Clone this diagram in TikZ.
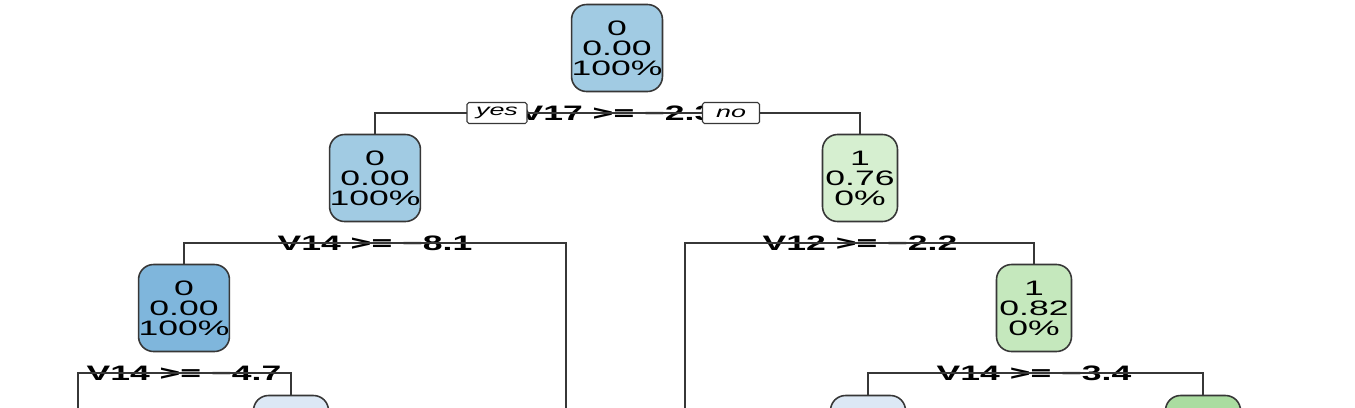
\documentclass[tikz,border=0pt]{standalone}
\usepackage{fontspec}
\setmainfont{Liberation Sans}[FakeStretch=1.7]
\definecolor{TreeBlueA}{RGB}{161,203,227}
\definecolor{TreeBlueB}{RGB}{127,182,220}
\definecolor{TreeBlueC}{RGB}{220,232,245}
\definecolor{TreeGreenA}{RGB}{214,239,208}
\definecolor{TreeGreenB}{RGB}{197,232,189}
\definecolor{TreeGreenC}{RGB}{170,220,160}
\definecolor{TreeLine}{RGB}{55,55,55}
\usepackage{tikz}
\usetikzlibrary{positioning,calc}

\begin{document}
\begin{tikzpicture}[
    x=0.02cm, y=-0.02cm,
    leaf/.style={rectangle, rounded corners=0.3cm, draw=TreeLine, fill=#1, line width=0.9pt, minimum width=1.5cm, minimum height=1.74cm, inner xsep=0pt, align=center, font=\fontsize{11.9}{11.4}\selectfont},
    split/.style={inner sep=0pt, font=\fontsize{11.9}{12}\selectfont\bfseries},
    yesno/.style={rectangle, rounded corners=1pt, draw=TreeLine, fill=white, line width=0.6pt, minimum width=1.2cm, minimum height=0.42cm, inner sep=0pt, font=\fontsize{9}{9}\selectfont\itshape},
    edge/.style={draw=TreeLine, line width=0.8pt}
]
    \useasboundingbox (0,0) rectangle (1355,407);
    \fill[white] (0,0) rectangle (1355,407);
    \clip (0,0) rectangle (1355,407);

    % tree nodes
    \node[leaf=TreeBlueA]  (n1)  at (617,48)  {0\\0.00\\100\%};
    \node[leaf=TreeBlueA]  (n2)  at (375,178) {0\\0.00\\100\%};
    \node[leaf=TreeGreenA] (n3)  at (860,178) {1\\0.76\\0\%};
    \node[leaf=TreeBlueB]  (n4)  at (184,308) {0\\0.00\\100\%};
    \node[leaf=TreeGreenB] (n7)  at (1034,308) {1\\0.82\\0\%};
    \node[leaf=TreeBlueC]  (n9)  at (291,439) {};
    \node[leaf=TreeBlueC]  (n14) at (868,439) {};
    \node[leaf=TreeGreenC] (n15) at (1203,439) {};
    % branches leaving the picture
    \coordinate (n5) at (566,430);
    \coordinate (n6) at (685,430);
    \coordinate (n8) at (78,430);

    % split labels
    \node[split] (s1) at (617,113) {V17 >= −2.3};
    \node[split] (s2) at (375,243) {V14 >= −8.1};
    \node[split] (s3) at (860,243) {V12 >= −2.2};
    \node[split] (s4) at (184,373) {V14 >= −4.7};
    \node[split] (s7) at (1034,373) {V14 >= −3.4};

    \draw[edge] (n2.north) |- (s1.center) -| (n3.north);
    \draw[edge] (n4.north) |- (s2.center) -| (n5);
    \draw[edge] (n6) |- (s3.center) -| (n7.north);
    \draw[edge] (n8) |- (s4.center) -| (n9.north);
    \draw[edge] (n14.north) |- (s7.center) -| (n15.north);

    \node[yesno] (yes) at (497,113) {yes};
    \node[yesno, minimum width=1.14cm] (no) at (731,113) {no};
\end{tikzpicture}
\end{document}
